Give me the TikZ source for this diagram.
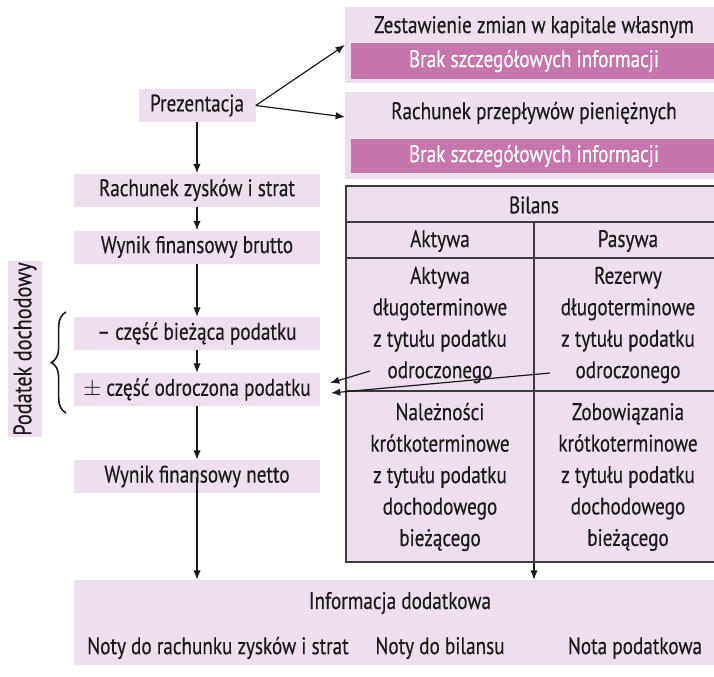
\documentclass[tikz,border=0pt]{standalone}
\usepackage{fontspec}
\setmainfont{PT Sans}[FakeStretch=0.8, FakeBold=0.3]
\usetikzlibrary{arrows.meta,decorations.pathreplacing}
\definecolor{lightpink}{RGB}{237,223,237}
\definecolor{darkpink}{RGB}{199,118,171}
\definecolor{ink}{RGB}{26,26,26}
\definecolor{rulegray}{RGB}{60,60,60}

\begin{document}
\begin{tikzpicture}[x=0.75pt,y=-0.75pt,
  every node/.style={font=\fontsize{18}{23.6}\selectfont, text=ink, inner sep=0pt},
  lbox/.style={fill=lightpink},
  dbox/.style={fill=darkpink, text=white},
  mainbox/.style={lbox, minimum width=184.5pt, minimum height=24.75pt},
  cell/.style={align=center},
  arr/.style={draw=ink, line width=0.9pt, -{Latex[length=7pt,width=5.5pt]}},
  gridline/.style={draw=rulegray, line width=1.1pt}
]
\path[use as bounding box, clip] (0,0) rectangle (714,676);

% top right: statements without detailed information
\node[lbox, minimum width=283.5pt, minimum height=57pt] (zestbox) at (534,45) {};
\node (zest) at (534,27) {Zestawienie zmian w kapitale własnym};
\node[dbox, minimum width=274.5pt, minimum height=27pt] (zestbrak) at (534,61) {Brak szczegółowych informacji};

\node[lbox, minimum width=283.5pt, minimum height=65.25pt] (przbox) at (534,135.5) {};
\node (prz) at (534,113) {Rachunek przepływów pieniężnych};
\node[dbox, minimum width=274.5pt, minimum height=25.5pt] (przbrak) at (534,156) {Brak szczegółowych informacji};

% left column: income statement flow
\node[lbox, minimum width=87.75pt, minimum height=24.75pt] (pres) at (197,105.5) {Prezentacja};
\node[mainbox] (rach) at (197,190) {Rachunek zysków i strat};
\node[mainbox] (brutto) at (197,247) {Wynik finansowy brutto};
\node[mainbox] (biez) at (197,333.5) {– część bieżąca podatku};
\node[mainbox] (odr) at (197,389.5) {$\pm$ część odroczona podatku};
\node[mainbox] (netto) at (197,476.5) {Wynik finansowy netto};

% income tax label and brace
\node[lbox, rotate=90, minimum width=132pt, minimum height=25.5pt, font=\fontsize{19}{24}\selectfont] (podatek) at (25,349) {Podatek dochodowy};
\draw[ink, line width=1.2pt, decorate, decoration={brace, amplitude=11pt}] (66,413) -- (66,312);

% balance sheet table
\node[lbox, draw=rulegray, line width=1.1pt, minimum width=282.75pt, minimum height=282pt] (bilans) at (534.5,374) {};
\draw[gridline] (346,222) -- (723,222);
\draw[gridline] (346,258) -- (723,258);
\draw[gridline] (346,391) -- (723,391);
\draw[gridline] (534,222) -- (534,562);
\node (bilanst) at (534,205) {Bilans};
\node (aktywa) at (440,241) {Aktywa};
\node (pasywa) at (628,241) {Pasywa};
\node[cell] (aktdl) at (440,325) {Aktywa\\długoterminowe\\z tytułu podatku\\odroczonego};
\node[cell] (rezdl) at (628,325) {Rezerwy\\długoterminowe\\z tytułu podatku\\odroczonego};
\node[cell] (nalez) at (440,477) {Należności\\krótkoterminowe\\z tytułu podatku\\dochodowego\\bieżącego};
\node[cell] (zobow) at (628,477) {Zobowiązania\\krótkoterminowe\\z tytułu podatku\\dochodowego\\bieżącego};

% notes
\node[lbox, minimum width=486.75pt, minimum height=63.75pt] (info) at (398.5,622.5) {};
\node (infot) at (400,603) {Informacja dodatkowa};
\node (notyrzis) at (218,648) {Noty do rachunku zysków i strat};
\node (notybil) at (440,648) {Noty do bilansu};
\node (notapod) at (635,648) {Nota podatkowa};

% connectors
\coordinate (zestin) at (345,45);
\coordinate (przin) at (345,117);
\draw[arr] (pres.east) -- (zestin);
\draw[arr] (pres.east) -- (przin);
\draw[arr] (pres) -- (rach);
\draw[arr] (rach) -- (brutto);
\draw[arr] (brutto) -- (biez);
\draw[arr] (biez) -- (odr);
\draw[arr] (odr) -- (netto);
\draw[arr] (netto.center) -- (netto.center |- info.north);
\draw[arr] (bilans.south -| 534,0) -- (534,0 |- info.north);

\coordinate (aktsrc) at (370,371);
\coordinate (rezsrc) at (550,373);
\coordinate (odrin1) at (330,383);
\coordinate (odrin2) at (331,393);
\draw[arr] (aktsrc) -- (odrin1);
\draw[arr] (rezsrc) -- (odrin2);
\end{tikzpicture}
\end{document}
